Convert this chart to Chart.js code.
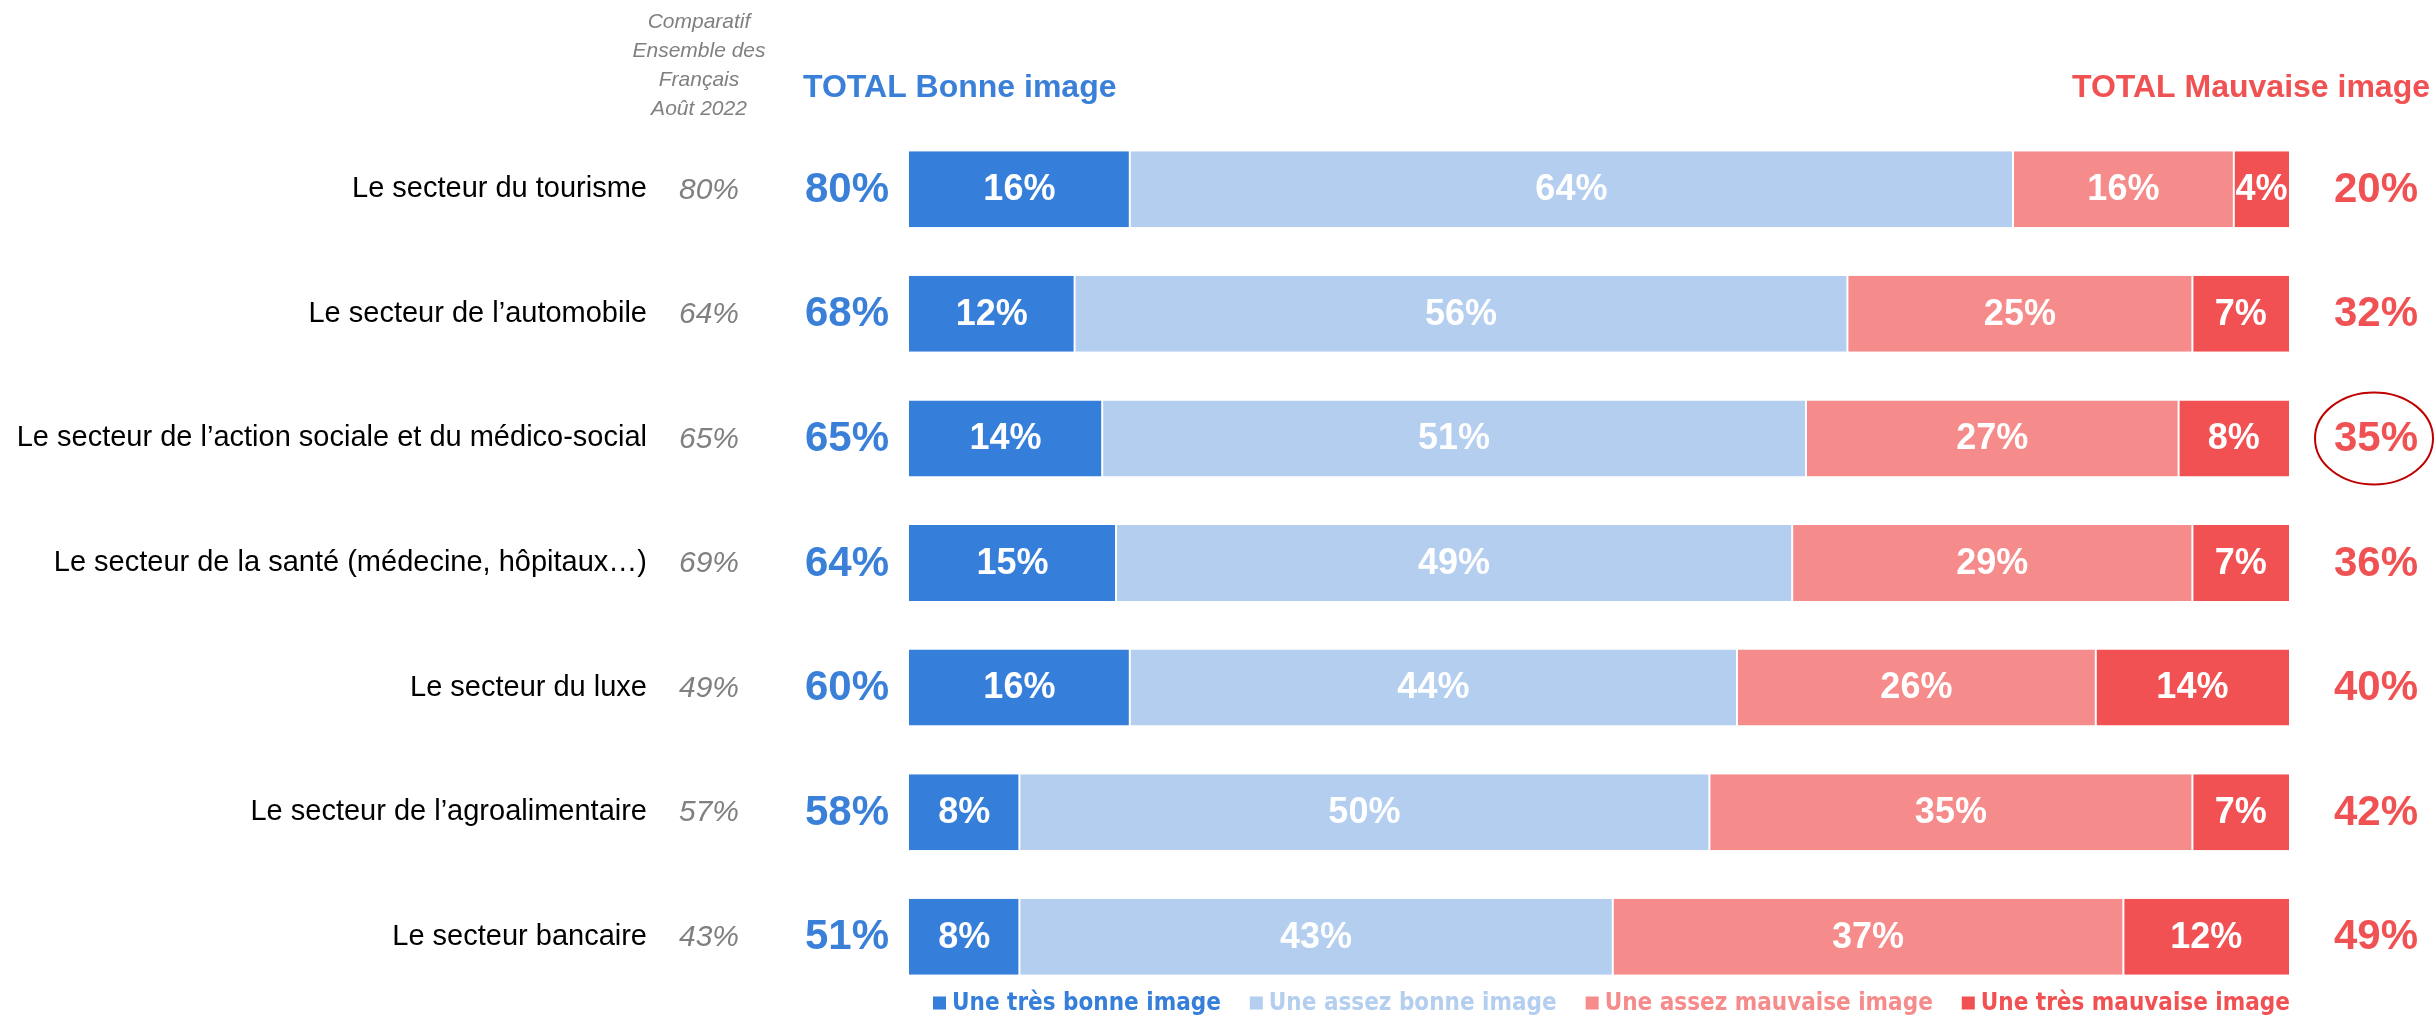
<!DOCTYPE html>
<html>
<head>
<meta charset="utf-8">
<script src="https://cdn.jsdelivr.net/npm/chart.js@4.4.1/dist/chart.umd.min.js"></script>
<style>
  html, body { margin: 0; padding: 0; background: #ffffff; }
  #wrap { width: 2436px; height: 1016px; position: relative; }
</style>
</head>
<body>
<div id="wrap"><canvas id="c" width="2436" height="1016"></canvas></div>
<script>
const categories = [
  "Le secteur du tourisme",
  "Le secteur de l\u2019automobile",
  "Le secteur de l\u2019action sociale et du médico-social",
  "Le secteur de la santé (médecine, hôpitaux…)",
  "Le secteur du luxe",
  "Le secteur de l\u2019agroalimentaire",
  "Le secteur bancaire"
];
const seriesNames = ["Une très bonne image", "Une assez bonne image", "Une assez mauvaise image", "Une très mauvaise image"];
const tresBonne     = [16, 12, 14, 15, 16, 8, 8];
const assezBonne    = [64, 56, 51, 49, 44, 50, 43];
const assezMauvaise = [16, 25, 27, 29, 26, 35, 37];
const tresMauvaise  = [4, 7, 8, 7, 14, 7, 12];
const totalBonne    = [80, 68, 65, 64, 60, 58, 51];
const totalMauvaise = [20, 32, 35, 36, 40, 42, 49];
const comparatif    = [80, 64, 65, 69, 49, 57, 43];
const comparatifTitle = ["Comparatif", "Ensemble des", "Français", "Août 2022"];
const headerBonne = "TOTAL Bonne image";
const headerMauvaise = "TOTAL Mauvaise image";
const highlightedRow = 2;

const colors = ["#357ED9", "#B4CEF0", "#F58B8A", "#F15152"];
const blueText = "#3A80D8";
const redText = "#F05152";
const FONT = "'Liberation Sans', Arial, sans-serif";

const overlay = {
  id: 'overlay',
  afterDatasetsDraw(chart) {
    const ctx = chart.ctx;
    const area = chart.chartArea;
    ctx.save();
    // segment labels
    ctx.textAlign = 'center';
    ctx.textBaseline = 'middle';
    ctx.fillStyle = '#ffffff';
    ctx.font = "bold 36px " + FONT;
    chart.data.datasets.forEach((ds, di) => {
      const meta = chart.getDatasetMeta(di);
      meta.data.forEach((bar, i) => {
        const cx = (bar.x + bar.base) / 2;
        ctx.fillText(ds.data[i] + '%', cx, bar.y + 1);
      });
    });
    const meta0 = chart.getDatasetMeta(0);
    meta0.data.forEach((bar, i) => {
      const y = bar.y + 1;
      // comparatif
      ctx.font = "italic 30px " + FONT;
      ctx.fillStyle = '#808080';
      ctx.textAlign = 'right';
      ctx.fillText(comparatif[i] + '%', area.left - 170, y);
      // total bonne
      ctx.font = "bold 42px " + FONT;
      ctx.fillStyle = blueText;
      ctx.textAlign = 'right';
      ctx.fillText(totalBonne[i] + '%', area.left - 20, y);
      // total mauvaise
      ctx.fillStyle = redText;
      ctx.textAlign = 'center';
      ctx.fillText(totalMauvaise[i] + '%', area.right + 87, y);
      if (i === highlightedRow) {
        ctx.beginPath();
        ctx.strokeStyle = '#C00000';
        ctx.lineWidth = 2;
        ctx.ellipse(area.right + 85, bar.y, 59, 46, 0, 0, Math.PI * 2);
        ctx.stroke();
      }
    });
    // headers
    ctx.font = "bold 32px " + FONT;
    ctx.textBaseline = 'middle';
    ctx.fillStyle = blueText;
    ctx.textAlign = 'left';
    ctx.fillText(headerBonne, area.left - 106, 88);
    ctx.fillStyle = redText;
    ctx.textAlign = 'right';
    ctx.fillText(headerMauvaise, area.right + 141, 88);
    ctx.font = "italic 21px " + FONT;
    ctx.fillStyle = '#808080';
    ctx.textAlign = 'center';
    comparatifTitle.forEach((t, k) => ctx.fillText(t, area.left - 210, 22 + k * 29));
    // legend
    ctx.font = "bold 24px 'DejaVu Sans Condensed', 'DejaVu Sans', sans-serif";
    ctx.textAlign = 'left';
    let x = area.left + 24;
    const ly = 1003;
    seriesNames.forEach((name, k) => {
      ctx.fillStyle = colors[k];
      ctx.fillRect(x, ly - 6.5, 13, 13);
      ctx.fillText(name, x + 19, ly + 1);
      x += 19 + ctx.measureText(name).width + 29;
    });
    ctx.restore();
  }
};

const datasets = [tresBonne, assezBonne, assezMauvaise, tresMauvaise].map((d, k) => ({
  label: seriesNames[k],
  data: d,
  backgroundColor: colors[k],
  borderColor: '#ffffff',
  borderWidth: { left: k === 0 ? 0 : 1, right: k === 3 ? 0 : 1, top: 0, bottom: 0 },
  borderSkipped: false,
  barPercentage: 0.61,
  categoryPercentage: 1.0
}));

new Chart(document.getElementById('c'), {
  type: 'bar',
  data: { labels: categories, datasets: datasets },
  options: {
    indexAxis: 'y',
    responsive: false,
    animation: false,
    events: [],
    layout: { padding: { top: 127, bottom: 17, left: 0, right: 147 } },
    plugins: { legend: { display: false }, tooltip: { enabled: false } },
    scales: {
      x: { stacked: true, min: 0, max: 100, display: false },
      y: {
        stacked: true,
        grid: { display: false, drawTicks: false },
        border: { display: false },
        afterFit(scale) {
          scale.width = 909;
          scale.paddingTop = 0;
          scale.paddingBottom = 0;
        },
        ticks: {
          autoSkip: false,
          padding: 262,
          color: '#000000',
          font: { family: FONT, size: 29 }
        }
      }
    }
  },
  plugins: [overlay]
});
</script>
</body>
</html>
